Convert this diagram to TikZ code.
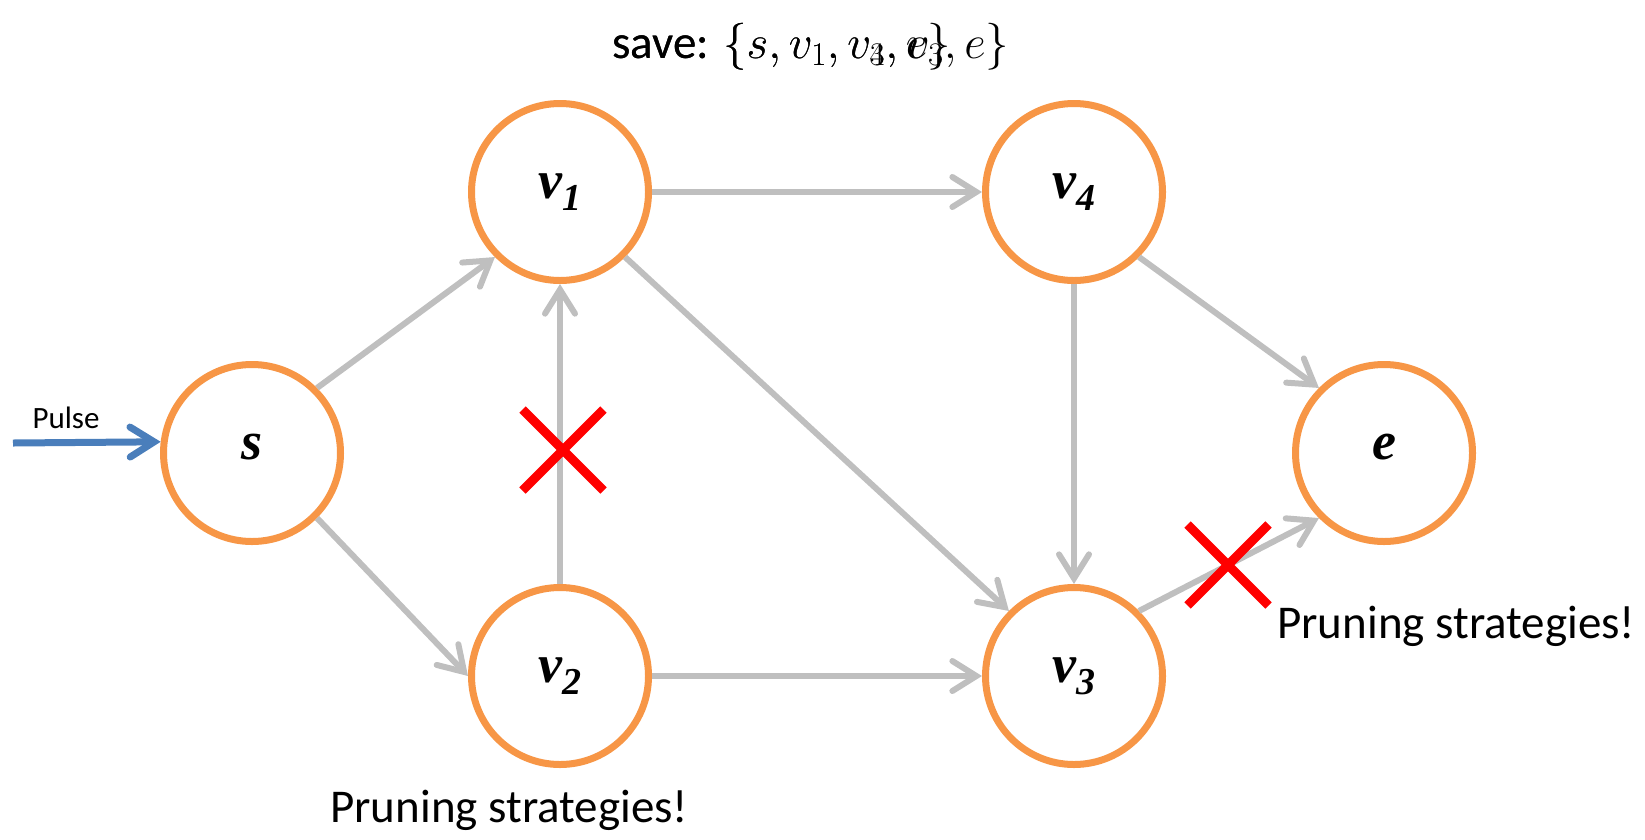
\RequirePackage{fix-cm}
\documentclass[tikz,border=0pt]{standalone}
\usepackage{fontspec}
\setmainfont{Carlito}
\newfontfamily\lblfont{Liberation Serif}
\usepackage{tikz}
\usetikzlibrary{shapes,arrows.meta,positioning,calc}

\definecolor{nodeorange}{RGB}{247,150,70}
\definecolor{edgegray}{RGB}{191,191,191}
\definecolor{pulseblue}{RGB}{74,126,187}
\definecolor{cutred}{RGB}{255,0,0}

\newcommand{\vlbl}[2]{{\lblfont\fontsize{54}{60}\selectfont\bfseries\itshape #1\raisebox{-12pt}{\fontsize{38}{40}\selectfont #2}}}

\tikzset{
  vertex/.style={circle, draw=nodeorange, line width=7pt, fill=white, minimum size=177pt, inner sep=0pt},
  edge/.style={draw=edgegray, line width=6pt, -{Straight Barb[length=24pt, width=30pt, line cap=round]}},
  cut/.style={cross out, draw=cutred, line width=9pt, minimum size=72pt, inner sep=0pt},
  note/.style={inner sep=0pt, font=\fontsize{47}{52}\selectfont}
}

\begin{document}
\begin{tikzpicture}[x=1pt, y=-1pt]
    \useasboundingbox (0,0) rectangle (1645,839);

    % vertices
    \node[vertex] (s)  at (252,453)  {\vlbl{s}{}};
    \node[vertex] (v1) at (560,192)  {\vlbl{v}{1}};
    \node[vertex] (v2) at (560,676)  {\vlbl{v}{2}};
    \node[vertex] (v4) at (1074,192) {\vlbl{v}{4}};
    \node[vertex] (v3) at (1074,676) {\vlbl{v}{3}};
    \node[vertex] (e)  at (1384,453) {\vlbl{e}{}};

    % edges
    \draw[edge] (s.45) -- (v1.225);
    \draw[edge] (s.315) -- (v2.180);
    \draw[edge] (v2.90) -- (v1.270);
    \draw[edge] (v1.0) -- (v4.180);
    \draw[edge] (v1.315) -- (v3.135);
    \draw[edge] (v2.0) -- (v3.180);
    \draw[edge] (v4.270) -- (v3.90);
    \draw[edge] (v4.315) -- (e.135);
    \draw[edge] (v3.45) -- (e.225);

    % input pulse
    \coordinate (pulsein) at (13,443);
    \draw[draw=pulseblue, line width=7pt, -{Straight Barb[length=24pt, width=30pt, line cap=round]}] (pulsein) -- (s.173);
    \node[inner sep=0pt, font=\fontsize{31}{34}\selectfont] (pulse) at (66,418) {Pulse};

    % pruned edges
    \node[cut] (cut1) at (563,450) {};
    \node[cut] (cut2) at (1228,565) {};
    \node[note, anchor=base west] (prune1) at (1277,638) {Pruning strategies!};
    \node[note, anchor=base west] (prune2) at (330,822) {Pruning strategies!};

    % saved path (two overlapping versions)
    \node[note, anchor=base west] (savea) at (612,58) {save: $\{s, v_1, v_3, e\}$};
    \node[note, anchor=base west] (saveb) at (612,58) {save: $\{s, v_1, v_4, v_3, e\}$};
\end{tikzpicture}
\end{document}
